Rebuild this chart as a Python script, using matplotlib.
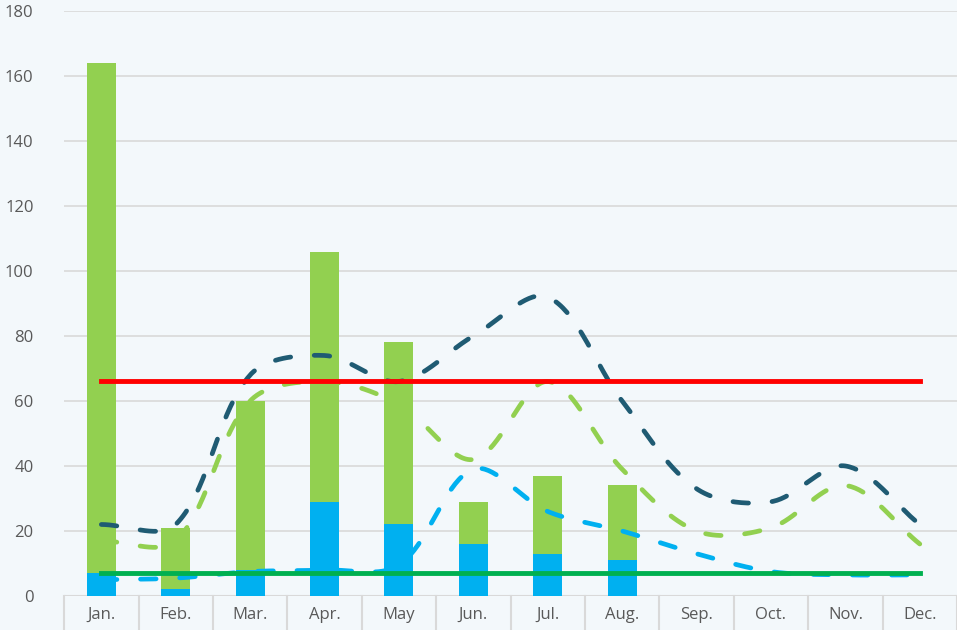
import matplotlib.pyplot as plt
import numpy as np

# monthly data
months = ['Jan.', 'Feb.', 'Mar.', 'Apr.', 'May', 'Jun.', 'Jul.', 'Aug.', 'Sep.', 'Oct.', 'Nov.', 'Dec.']
bar_blue = [7, 2, 8, 29, 22, 16, 13, 11, 0, 0, 0, 0]
bar_green = [157, 19, 52, 77, 56, 13, 24, 23, 0, 0, 0, 0]
navy_line = [22, 22, 68, 74, 66, 80, 92, 60, 33, 29, 40, 22]
green_line = [17, 17, 60, 66, 59, 42, 66, 39, 20, 21, 34, 16]
blue_line = [5, 5.5, 7.5, 8, 9.5, 39, 26, 20, 13, 7.5, 6.5, 6.5]
red_level = [66] * 12
green_level = [7] * 12

# pixels per unit, used so the smoothing works in screen space
XPX, YPX = 74.4, 3.25


def smooth(y, n=40, f=1 / 3):
    # bezier smoothing with control arms scaled by neighbour distances
    P = np.column_stack([np.arange(len(y)) * XPX, np.asarray(y, float) * YPX])
    m = len(P)
    d = np.linalg.norm(np.diff(P, axis=0), axis=1)
    cin, cout = np.zeros_like(P), np.zeros_like(P)
    for i in range(m):
        if i == 0:
            cout[i] = P[0] + (P[1] - P[0]) * f
        elif i == m - 1:
            cin[i] = P[-1] - (P[-1] - P[-2]) * f
        else:
            T = P[i + 1] - P[i - 1]
            s = d[i - 1] + d[i]
            cin[i] = P[i] - T * f * d[i - 1] / s
            cout[i] = P[i] + T * f * d[i] / s
    t = np.linspace(0, 1, n)[:, None]
    pts = []
    for i in range(m - 1):
        b = ((1 - t) ** 3 * P[i] + 3 * (1 - t) ** 2 * t * cout[i]
             + 3 * (1 - t) * t ** 2 * cin[i + 1] + t ** 3 * P[i + 1])
        pts.append(b)
    pts = np.vstack(pts)
    return pts[:, 0] / XPX, pts[:, 1] / YPX


plt.rcParams['font.family'] = ['Open Sans', 'DejaVu Sans']
bg = '#F3F8FB'
fig = plt.figure(figsize=(9.57, 6.30), dpi=100, facecolor=bg)
ax = fig.add_axes([0.067, 0.054, 0.933, 0.9285], facecolor=bg)

x = np.arange(len(months))
ax.bar(x, bar_blue, width=0.39, color='#00B0F0', zorder=2)
ax.bar(x, bar_green, width=0.39, bottom=bar_blue, color='#92D050', zorder=2)

dash = dict(lw=3.4, dashes=(3.3, 5.0), dash_capstyle='round', zorder=3)
sx, sy = smooth(navy_line)
ax.plot(sx, sy, color='#1F5B73', **dash)
sx, sy = smooth(green_line)
ax.plot(sx, sy, color='#92D050', **dash)
sx, sy = smooth(blue_line)
ax.plot(sx, sy, color='#00B0F0', **dash)

ax.plot(x, red_level, color='#FF0000', lw=3.5, zorder=4)
ax.plot(x, green_level, color='#00B050', lw=3.5, zorder=4)

ax.set_xlim(-0.5, 11.5)
ax.set_ylim(0, 180)
ax.set_yticks(range(0, 181, 20))
ax.yaxis.grid(True, color='#D9D9D9', lw=1.2, zorder=0)
ax.set_axisbelow(True)
for s in ax.spines.values():
    s.set_visible(False)
ax.axhline(0, color='#D9D9D9', lw=1.5, zorder=1)
ax.tick_params(axis='y', length=0, pad=22, labelsize=12, labelcolor='#595959')

# category boxes under the axis
ax.set_xticks(x)
ax.set_xticklabels(months)
ax.tick_params(axis='x', length=0, pad=8, labelsize=12, labelcolor='#595959')
for b in np.arange(-0.5, 12, 1):
    ax.plot([b, b], [0, -11], color='#D9D9D9', lw=1.5, clip_on=False)

fig.savefig('out.png', dpi=100, facecolor=bg)
